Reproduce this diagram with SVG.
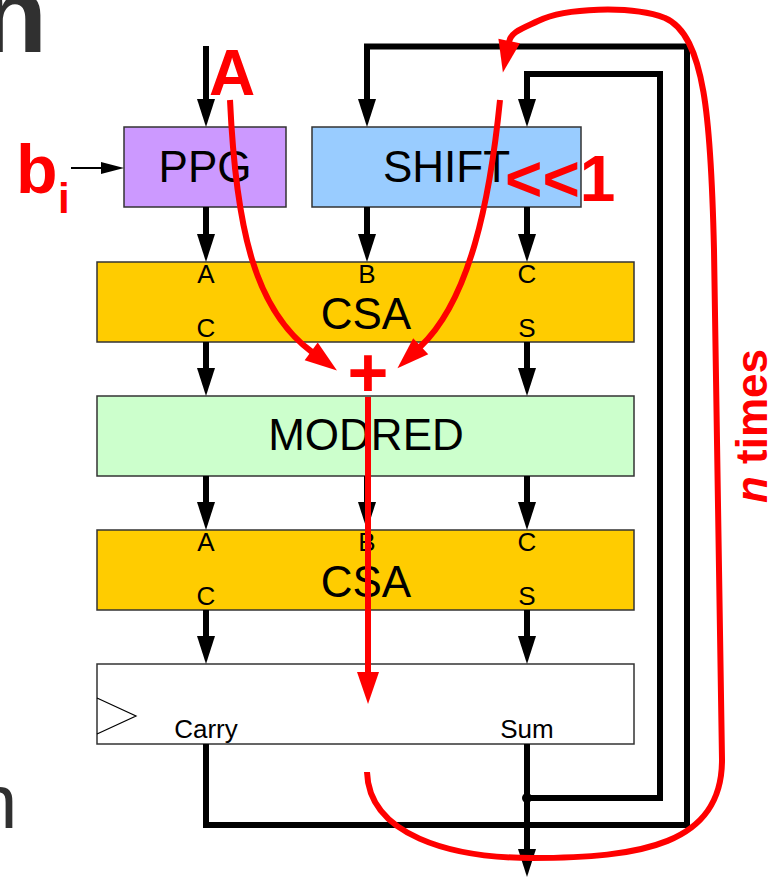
<svg xmlns="http://www.w3.org/2000/svg" width="776" height="881" viewBox="0 0 776 881">
<style>
.box{stroke:#333;stroke-width:1.5}
.lbl{font-family:"Liberation Sans",Arial,sans-serif;font-size:44px;fill:#000;text-anchor:middle}
.pin{font-family:"Liberation Sans",Arial,sans-serif;font-size:26px;fill:#000;text-anchor:middle}
.wire{fill:none;stroke:#000;stroke-width:6}
.red{fill:none;stroke:#ff0000;stroke-width:6}
.rtxt{font-family:"Liberation Sans",Arial,sans-serif;font-weight:bold;fill:#ff0000}
.gray{font-family:"Liberation Sans",Arial,sans-serif;fill:#303030}
</style>
<defs>
<marker id="ah" markerUnits="userSpaceOnUse" markerWidth="28" markerHeight="18" refX="0" refY="9" orient="auto" overflow="visible">
<path d="M-1,0 L27,9 L-1,18 z" fill="#000"/>
</marker>
<marker id="ahs" markerUnits="userSpaceOnUse" markerWidth="22" markerHeight="12" refX="0" refY="6" orient="auto" overflow="visible">
<path d="M-1,0 L22,6 L-1,12 z" fill="#000"/>
</marker>
<marker id="rah" markerUnits="userSpaceOnUse" markerWidth="32" markerHeight="22" refX="0" refY="11" orient="auto" overflow="visible">
<path d="M-1,0 L31,11 L-1,22 z" fill="#ff0000"/>
</marker>
</defs>
<rect width="776" height="881" fill="#fff"/>
<text class="gray" x="-20" y="52" font-size="110" font-weight="bold">n</text>
<text class="gray" x="-25" y="828" font-size="76">n</text>

<g id="ppg"><rect class="box" x="124" y="127" width="162" height="80" fill="#cc99ff"/><text class="lbl" x="205" y="182">PPG</text></g>
<g id="shift"><rect class="box" x="312" y="127" width="269" height="80" fill="#99ccff"/><text class="lbl" x="446.5" y="182">SHIFT</text></g>
<g id="csa1"><rect class="box" x="97" y="262" width="537" height="80" fill="#ffcc00"/><text class="lbl" x="366" y="329">CSA</text>
<text class="pin" x="206" y="283">A</text><text class="pin" x="367" y="283">B</text><text class="pin" x="527" y="283">C</text>
<text class="pin" x="206" y="337">C</text><text class="pin" x="527" y="337">S</text></g>
<g id="modred"><rect class="box" x="97" y="396" width="537" height="80" fill="#ccffcc"/><text class="lbl" x="366" y="450">MODRED</text></g>
<g id="csa2"><rect class="box" x="97" y="530" width="537" height="80" fill="#ffcc00"/><text class="lbl" x="366" y="597">CSA</text>
<text class="pin" x="206" y="551">A</text><text class="pin" x="367" y="551">B</text><text class="pin" x="527" y="551">C</text>
<text class="pin" x="206" y="605">C</text><text class="pin" x="527" y="605">S</text></g>
<g id="register"><rect class="box" x="97" y="664" width="537" height="80" fill="#fff"/>
<polyline points="97,698 136,716 97,734" fill="none" stroke="#000" stroke-width="1.2"/>
<text class="pin" x="206" y="738" font-size="25">Carry</text><text class="pin" x="527" y="738" font-size="25">Sum</text></g>

<g id="connectors">
<path class="wire" d="M206,46 V100" marker-end="url(#ah)"/>
<path class="wire" d="M206,744 V825 H687 V46.5 H367 V100" marker-end="url(#ah)"/>
<path class="wire" d="M527,798 H660 V74 H527 V100" marker-end="url(#ah)"/>
<path class="wire" d="M527,744 V850" marker-end="url(#ah)"/>
<circle cx="527" cy="798" r="5" fill="#000"/>
<path d="M71,168 H102" fill="none" stroke="#000" stroke-width="2" marker-end="url(#ahs)"/>
<path class="wire" d="M206,207 V235" marker-end="url(#ah)"/>
<path class="wire" d="M367,207 V235" marker-end="url(#ah)"/>
<path class="wire" d="M527,207 V235" marker-end="url(#ah)"/>
<path class="wire" d="M206,342 V369" marker-end="url(#ah)"/>
<path class="wire" d="M527,342 V369" marker-end="url(#ah)"/>
<path class="wire" d="M206,476 V503" marker-end="url(#ah)"/>
<path class="wire" d="M367,476 V503" marker-end="url(#ah)"/>
<path class="wire" d="M527,476 V503" marker-end="url(#ah)"/>
<path class="wire" d="M206,610 V637" marker-end="url(#ah)"/>
<path class="wire" d="M527,610 V637" marker-end="url(#ah)"/>
</g>

<g id="annotations">
<path class="red" d="M230,100 C236,230 255,310 312,352" marker-end="url(#rah)"/>
<path class="red" d="M500,100 C490,200 470,300 420,347" marker-end="url(#rah)"/>
<path class="red" d="M368,397 V673" marker-end="url(#rah)"/>
<path class="red" d="M367,772 C369,835 450,858 532,858 C640,858 722,845 722,760 L714,250 C711,120 705,35 665,18 C630,5 565,8 538,21 C521,29 511,32 509,42" marker-end="url(#rah)"/>
<text class="rtxt" x="368" y="397" font-size="70" text-anchor="middle">+</text>
<text class="rtxt" x="232" y="95" font-size="64" text-anchor="middle">A</text>
<text class="rtxt" x="16" y="193" font-size="68">b</text>
<text class="rtxt" x="58" y="213" font-size="42">i</text>
<text class="rtxt" x="505" y="201" font-size="64">&lt;&lt;1</text>
<text class="rtxt" transform="translate(767,426) rotate(-90)" x="0" y="0" font-size="44" text-anchor="middle"><tspan font-style="italic">n</tspan> times</text>
</g>
</svg>
